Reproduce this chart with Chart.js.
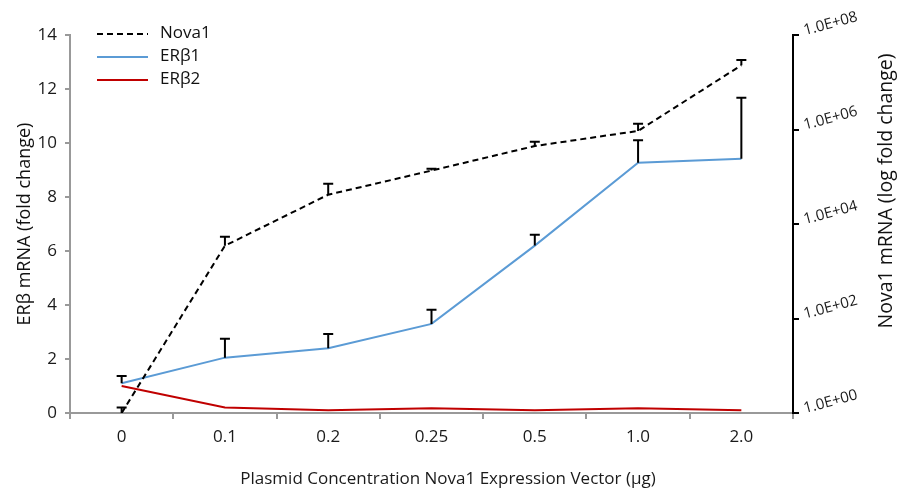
<!DOCTYPE html>
<html>
<head>
<meta charset="utf-8">
<script src="https://cdn.jsdelivr.net/npm/chart.js@4/dist/chart.umd.min.js"></script>
<style>
  html, body { margin: 0; padding: 0; background: #fff; }
  #wrap { width: 898px; height: 494px; }
</style>
</head>
<body>
<div id="wrap"><canvas id="chart"></canvas></div>
<script>
// plasmid amounts on the x axis
var categories = ['0', '0.1', '0.2', '0.25', '0.5', '1.0', '2.0'];

// Nova1 fold change (right, log axis) and top of its error bars
var nova1 = [1, 3470, 41700, 135000, 447000, 933000, 22900000];
var nova1Err = [1.3, 5370, 70800, 148000, 550000, 1320000, 29500000];

// ERb1 / ERb2 fold change (left axis)
var erb1 = [1.1, 2.05, 2.4, 3.3, 6.2, 9.27, 9.42];
var erb1Err = [1.37, 2.75, 2.93, 3.82, 6.6, 10.1, 11.68];
var erb2 = [1.0, 0.2, 0.1, 0.18, 0.1, 0.18, 0.1];

var leftTicks = [0, 2, 4, 6, 8, 10, 12, 14];
var rightTicks = [1, 1e2, 1e4, 1e6, 1e8];
var rightTickLabels = ['1.0E+00', '1.0E+02', '1.0E+04', '1.0E+06', '1.0E+08'];

var FONT = "'Open Sans', 'Liberation Sans', sans-serif";

// upward-only error bars with a T cap
var errorBars = {
    id: 'errorBars',
    afterDatasetsDraw: function (chart) {
        var ctx = chart.ctx;
        chart.data.datasets.forEach(function (ds, i) {
            if (!ds.errTop) return;
            var meta = chart.getDatasetMeta(i);
            var scale = chart.scales[ds.yAxisID];
            ctx.save();
            ctx.strokeStyle = '#000';
            ctx.lineWidth = 2;
            meta.data.forEach(function (pt, j) {
                var yTop = scale.getPixelForValue(ds.errTop[j]);
                ctx.beginPath();
                ctx.moveTo(pt.x, pt.y);
                ctx.lineTo(pt.x, yTop);
                ctx.moveTo(pt.x - 5, yTop);
                ctx.lineTo(pt.x + 5, yTop);
                ctx.stroke();
            });
            ctx.restore();
        });
    }
};

// slanted labels + title on the right axis, x title, legend in the top left
var extras = {
    id: 'extras',
    afterDraw: function (chart) {
        var ctx = chart.ctx;
        var y2 = chart.scales.y2;
        ctx.save();
        ctx.fillStyle = '#1a1a1a';
        ctx.font = '15px ' + FONT;
        ctx.textAlign = 'left';
        ctx.textBaseline = 'middle';
        rightTicks.forEach(function (v, i) {
            var py = y2.getPixelForValue(v);
            ctx.save();
            ctx.translate(y2.left + 11, py - 4);
            ctx.rotate(-15 * Math.PI / 180);
            ctx.fillText(rightTickLabels[i], 0, 0);
            ctx.restore();
        });

        ctx.save();
        ctx.font = '19.5px ' + FONT;
        ctx.fillStyle = '#111';
        ctx.textAlign = 'center';
        ctx.textBaseline = 'middle';
        ctx.translate(886, 191);
        ctx.rotate(-Math.PI / 2);
        ctx.fillText('Nova1 mRNA (log fold change)', 0, 0);
        ctx.restore();

        ctx.save();
        ctx.font = '17px ' + FONT;
        ctx.fillStyle = '#1a1a1a';
        ctx.textAlign = 'center';
        ctx.textBaseline = 'middle';
        ctx.fillText('Plasmid Concentration Nova1 Expression Vector (µg)', 448, 479);
        ctx.restore();

        var rows = [34, 57, 80];
        ctx.font = '17px ' + FONT;
        ctx.textBaseline = 'middle';
        chart.data.datasets.forEach(function (ds, i) {
            var y = rows[i];
            ctx.save();
            ctx.strokeStyle = ds.borderColor;
            ctx.lineWidth = 2;
            ctx.setLineDash(ds.borderDash || []);
            ctx.beginPath();
            ctx.moveTo(97, y);
            ctx.lineTo(148, y);
            ctx.stroke();
            ctx.restore();
            ctx.fillStyle = '#111';
            ctx.fillText(ds.label, 160, y - 1);
        });
        ctx.restore();
    }
};

var chart = new Chart(document.getElementById('chart'), {
    type: 'line',
    data: {
        labels: categories,
        datasets: [
            {
                label: 'Nova1',
                data: nova1,
                errTop: nova1Err,
                yAxisID: 'y2',
                borderColor: '#000',
                borderDash: [6, 4],
                borderWidth: 2,
                pointRadius: 0,
                tension: 0
            },
            {
                label: 'ERβ1',
                data: erb1,
                errTop: erb1Err,
                yAxisID: 'y',
                borderColor: '#5b9bd5',
                borderWidth: 2,
                pointRadius: 0,
                tension: 0
            },
            {
                label: 'ERβ2',
                data: erb2,
                yAxisID: 'y',
                borderColor: '#c00000',
                borderWidth: 2,
                pointRadius: 0,
                tension: 0
            }
        ]
    },
    options: {
        responsive: true,
        maintainAspectRatio: false,
        animation: false,
        layout: { padding: { top: 35, left: 0, right: 0, bottom: 0 } },
        plugins: {
            legend: { display: false },
            tooltip: { enabled: false }
        },
        scales: {
            x: {
                offset: true,
                grid: {
                    offset: true,
                    drawOnChartArea: false,
                    drawTicks: true,
                    tickLength: 6,
                    color: '#999',
                    lineWidth: 2
                },
                border: { color: '#999', width: 2 },
                ticks: { color: '#1a1a1a', font: { family: FONT, size: 17 }, padding: 8 },
                afterFit: function (s) { s.height = 81; }
            },
            y: {
                position: 'left',
                min: 0,
                max: 14,
                afterBuildTicks: function (s) {
                    s.ticks = leftTicks.map(function (v) { return { value: v }; });
                },
                grid: {
                    drawOnChartArea: false,
                    drawTicks: true,
                    tickLength: 5,
                    color: '#999',
                    lineWidth: 2
                },
                border: { color: '#999', width: 2 },
                ticks: { color: '#1a1a1a', font: { family: FONT, size: 17 }, padding: 8 },
                title: {
                    display: true,
                    text: 'ERβ mRNA (fold change)',
                    color: '#111',
                    font: { family: FONT, size: 18 },
                    padding: { top: 14, bottom: 0 }
                },
                afterFit: function (s) { s.width = 70; }
            },
            y2: {
                type: 'logarithmic',
                position: 'right',
                min: 1,
                max: 1e8,
                afterBuildTicks: function (s) {
                    s.ticks = rightTicks.map(function (v) { return { value: v }; });
                },
                grid: {
                    drawOnChartArea: false,
                    drawTicks: true,
                    tickLength: 6,
                    color: '#000',
                    lineWidth: 2
                },
                border: { color: '#000', width: 2 },
                ticks: { display: false },
                afterFit: function (s) { s.width = 105; }
            }
        }
    },
    plugins: [errorBars, extras]
});
</script>
</body>
</html>
